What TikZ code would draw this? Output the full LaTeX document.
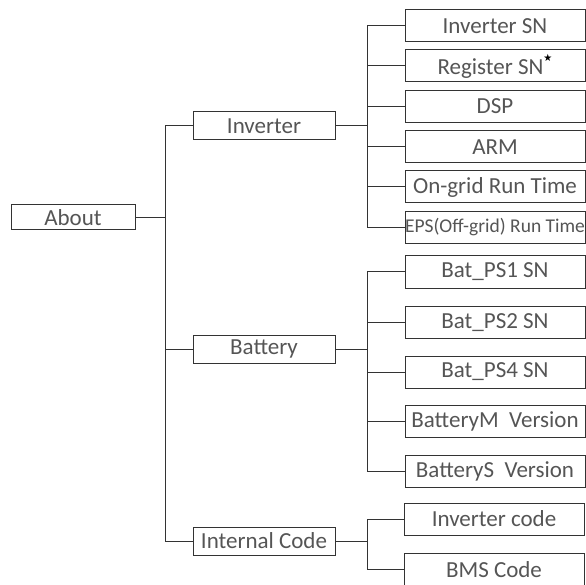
\documentclass[tikz,border=0pt]{standalone}
\usepackage{fontspec}
\setmainfont{Carlito}
\newfontfamily\symfont{DejaVu Sans}
\usetikzlibrary{positioning}
\definecolor{txtgray}{HTML}{555555}
\definecolor{linegray}{HTML}{333333}

\begin{document}
\begin{tikzpicture}[x=1pt, y=1pt, line width=1pt, draw=linegray,
 every node/.style={font=\fontsize{23}{25}\selectfont, text=txtgray},
 topbox/.style={draw=linegray, inner sep=0pt, minimum width=124pt, minimum height=25pt},
 midbox/.style={draw=linegray, inner sep=0pt, minimum width=142pt, minimum height=28pt},
 leafbox/.style={draw=linegray, inner sep=0pt, minimum width=180pt, minimum height=32pt}]
\useasboundingbox (0,0) rectangle (586,-585);
\clip (0,0) rectangle (586,-585);
% root and first level
\node[topbox] (about) at (73,-217.5) {About};
\node[midbox] (inv) at (264,-126) {Inverter};
\node[midbox] (bat) at (264,-349) {Battery};
\node[midbox] (icd) at (264,-541) {Internal Code};
% inverter leaves
\node[leafbox] (isn) at (495,-26) {Inverter SN};
\node[leafbox] (rsn) at (495,-66) {Register SN\raisebox{1.2ex}{\symfont\fontsize{10}{10}\selectfont\color{black}★}};
\node[leafbox] (dsp) at (495,-106.5) {DSP};
\node[leafbox] (arm) at (495,-147) {ARM};
\node[leafbox] (ong) at (495,-187) {On-grid Run Time};
\node[leafbox, font=\fontsize{19.5}{21}\selectfont] (eps) at (495,-227.5) {EPS(Off-grid) Run Time};
% battery leaves
\node[leafbox] (bp1) at (495,-272) {Bat\_PS1 SN};
\node[leafbox] (bp2) at (495,-322.5) {Bat\_PS2 SN};
\node[leafbox] (bp4) at (495,-372) {Bat\_PS4 SN};
\node[leafbox] (bvm) at (495,-421.5) {BatteryM\ \ Version};
\node[leafbox] (bvs) at (495,-471) {BatteryS\ \ Version};
% internal code leaves
\node[leafbox] (ico) at (494,-519) {Inverter code};
\node[leafbox] (bms) at (494,-569.5) {BMS Code};
% connectors
\draw (about.east) -- ++(30,0) |- (inv.west);\draw (about.east) -- ++(30,0) |- (bat.west);
\draw (about.east) -- ++(30,0) |- (icd.west);
\draw (inv.east) -- ++(32,0) |- (isn.west);\draw (inv.east) -- ++(32,0) |- (rsn.west);
\draw (inv.east) -- ++(32,0) |- (dsp.west);\draw (inv.east) -- ++(32,0) |- (arm.west);
\draw (inv.east) -- ++(32,0) |- (ong.west);\draw (inv.east) -- ++(32,0) |- (eps.west);
\draw (bat.east) -- ++(32,0) |- (bp1.west);\draw (bat.east) -- ++(32,0) |- (bp2.west);
\draw (bat.east) -- ++(32,0) |- (bp4.west);\draw (bat.east) -- ++(32,0) |- (bvm.west);
\draw (bat.east) -- ++(32,0) |- (bvs.west);
\draw (icd.east) -- ++(32,0) |- (ico.west);\draw (icd.east) -- ++(32,0) |- (bms.west);
\end{tikzpicture}
\end{document}
